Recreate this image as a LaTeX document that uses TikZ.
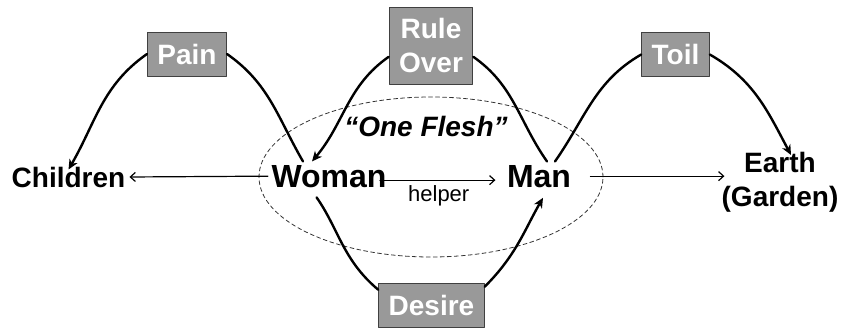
\documentclass[tikz,border=0pt]{standalone}
\usepackage{fontspec}
\setmainfont{Liberation Sans}
\usetikzlibrary{arrows.meta}
\begin{document}
\begin{tikzpicture}[x=1pt, y=-1pt, line join=round, line cap=round,
		font=\fontsize{28}{34}\selectfont\bfseries,
		curse/.style={draw=black!75, line width=0.9pt, fill=black!40, text=white, inner xsep=10pt, minimum height=44pt},
		word/.style={anchor=base},
		big/.style={font=\fontsize{32}{38}\selectfont\bfseries},
		arc/.style={line width=2.4pt},
		link/.style={line width=1.2pt, -{Straight Barb[length=5pt,width=9pt]}},
		fall/.style={-{Stealth[length=10pt,width=9pt,inset=3pt]}}]
			\useasboundingbox (0,0) rectangle (841,329);
			% the couple and the one flesh
			\draw[black!80, line width=0.8pt, dash pattern=on 4pt off 3pt] (431,177) ellipse [x radius=172pt, y radius=80pt];
			\node[word, big] (woman) at (329,187) {Woman};
			\node[word, big] (man) at (539,187) {Man};
			\node (oneflesh) at (426,126) {\itshape “One Flesh”};
			\node[word, inner sep=0pt] (children) at (68.5,187) {Children};
			\node[anchor=north, align=center, inner sep=0pt] (earth) at (780,152) {Earth\\(Garden)};
			% the curses
			\node[curse] (pain) at (187,54) {Pain};
			\node[curse, align=center, minimum height=77pt] (ruleover) at (431,45.5) {Rule\\Over};
			\node[curse] (toil) at (675.5,54.5) {Toil};
			\node[curse] (desire) at (431.5,305) {Desire};
			% straight links
			\draw[link] (woman.west) -- ([xshift=4pt]children.east);
			\draw[link, shorten <=-10pt, shorten >=8pt] ([yshift=-4pt]woman.east) -- ([yshift=-4pt]man.west)
				node[midway, below=1pt, xshift=-8pt, font=\fontsize{22}{26}\selectfont] (helper) {helper};
			\draw[link, shorten <=16pt] (man.east) -- ([xshift=3pt]earth.west |- man.east);
			% curved links
			\draw[arc] ([xshift=-26pt]woman.north) to[out=120, in=-35] (pain.east);
			\draw[arc, fall] (pain.west) to[out=215, in=60] ([yshift=-3pt]children.north);
			\draw[arc] ([xshift=8pt]man.north) to[out=125, in=-35] (ruleover.-15);
			\draw[arc, fall] (ruleover.195) to[out=215, in=50] ([xshift=-17pt]woman.north);
			\draw[arc] ([xshift=16pt]man.north) to[out=55, in=210] (toil.west);
			\draw[arc, fall] (toil.east) to[out=-30, in=118] ([xshift=11pt, yshift=-3pt]earth.north);
			\draw[arc, shorten <=8pt] ([xshift=-17pt]woman.south) to[out=-55, in=140] (desire.164);
			\draw[arc, fall, shorten >=8pt] (desire.19) to[out=45, in=-120] ([xshift=8pt]man.south);
		\end{tikzpicture}
\end{document}
